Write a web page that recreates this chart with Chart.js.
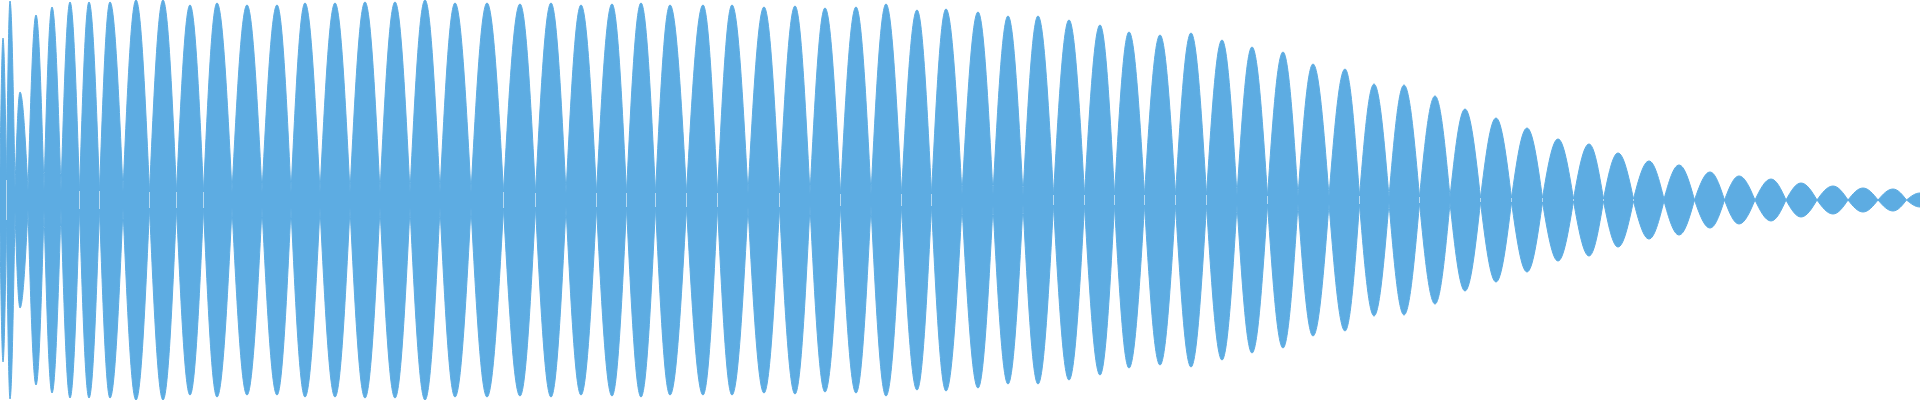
<!DOCTYPE html>
<html>
<head>
<meta charset="utf-8">
<script src="https://cdn.jsdelivr.net/npm/chart.js@4"></script>
<style>
  html, body { margin: 0; padding: 0; background: #fff; }
  #wrap { width: 1920px; height: 400px; }
</style>
</head>
<body>
<div id="wrap"><canvas id="wave"></canvas></div>
<script>
// peak positions of each lobe (x, 0..1920) and their amplitude (0..200)
const peakX = [3, 10, 20, 36, 52, 70, 89, 110, 136, 163, 190, 217, 247, 277, 305, 335, 365, 395, 425, 455, 487,
  520, 551, 581, 612, 641, 670, 703, 732, 764, 795, 825, 856, 886, 917, 946, 978, 1008, 1038, 1069, 1100, 1129, 1160, 1191,
  1222, 1252, 1283, 1313, 1345, 1374, 1404, 1435, 1465, 1496, 1527, 1558, 1589, 1618, 1649, 1679, 1710, 1739, 1771, 1801, 1833, 1863, 1893, 1920];
const peakAmp = [162, 199, 108, 185, 193, 198, 198, 198, 200, 200, 195, 197, 195, 195, 197, 197, 198, 198, 200, 197, 197,
  196, 197, 195, 196, 197, 195, 195, 195, 193, 194, 192, 193, 196, 190, 191, 188, 184, 184, 180, 175, 168, 165, 167,
  160, 153, 148, 136, 131, 116, 115, 104, 91, 82, 72, 61, 56, 47, 39, 35, 28, 24, 21, 17, 14, 12, 11, 7];
// half-thickness of the band where lobes meet (left side of each lobe)
const waist = [30, 20, 12, 10, 10, 9, 9, 9, 9, 8, 8, 8, 8, 8, 8, 8, 8, 8, 8, 8, 8,
  8, 7, 7, 7, 7, 7, 7, 7, 7, 7, 6, 6, 6, 6, 6, 6, 6, 5, 5, 5, 5, 5, 5,
  5, 5, 4, 4, 4, 4, 3, 3, 3, 2, 2, 2, 1, 1, 1, 1, 0, 0, 0, 0, 0, 0, 0, 0];

const COLOR = 'rgb(93,172,226)';

function buildSeries(sign) {
  const pts = [];
  for (let i = 0; i < peakX.length; i++) {
    const left = i === 0 ? 0 : (peakX[i - 1] + peakX[i]) / 2;
    const right = i === peakX.length - 1 ? 1920 : (peakX[i] + peakX[i + 1]) / 2;
    const wr = i === peakX.length - 1 ? waist[i] : waist[i + 1];
    pts.push({ x: left, y: sign * waist[i] });
    pts.push({ x: peakX[i], y: sign * peakAmp[i] });
    pts.push({ x: right, y: sign * wr });
    pts.push({ x: right, y: null });
  }
  return pts;
}

// reshape the bezier handles so each lobe follows a half sine
const sineLobes = {
  id: 'sineLobes',
  afterDatasetsUpdate(chart) {
    chart.data.datasets.forEach((d, di) => {
      const meta = chart.getDatasetMeta(di);
      meta.dataset.updateControlPoints(chart.chartArea, 'x');
      const el = meta.data;
      for (let i = 0; i + 2 < el.length; i += 4) {
        const l = el[i], p = el[i + 1], r = el[i + 2];
        l.cp2x = l.x + 0.326 * (p.x - l.x); l.cp2y = l.y + 0.512 * (p.y - l.y);
        p.cp1x = p.x - 0.362 * (p.x - l.x); p.cp1y = p.y;
        p.cp2x = p.x + 0.362 * (r.x - p.x); p.cp2y = p.y;
        r.cp1x = r.x - 0.326 * (r.x - p.x); r.cp1y = r.y + 0.512 * (p.y - r.y);
        l.cp1x = l.x; l.cp1y = l.y; r.cp2x = r.x; r.cp2y = r.y;
        for (const e of [l, p, r]) {
          e.controlPointPreviousX = e.cp1x; e.controlPointPreviousY = e.cp1y;
          e.controlPointNextX = e.cp2x; e.controlPointNextY = e.cp2y;
        }
      }
    });
  }
};

const ds = (sign) => ({
  data: buildSeries(sign),
  borderColor: COLOR,
  backgroundColor: COLOR,
  borderWidth: 1,
  pointRadius: 0,
  tension: 0.4,
  fill: 'origin',
  spanGaps: false
});

new Chart(document.getElementById('wave'), {
  type: 'line',
  data: { datasets: [ds(1), ds(-1)] },
  plugins: [sineLobes],
  options: {
    responsive: true,
    maintainAspectRatio: false,
    animation: false,
    layout: { padding: 0 },
    plugins: { legend: { display: false }, tooltip: { enabled: false } },
    scales: {
      x: { type: 'linear', min: 0, max: 1920, display: false },
      y: { min: -200, max: 200, display: false }
    }
  }
});
</script>
</body>
</html>
